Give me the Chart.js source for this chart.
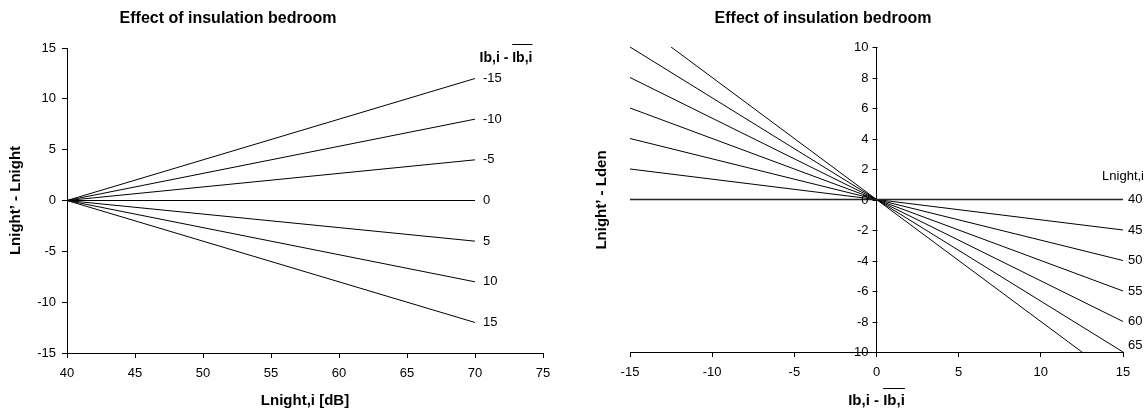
<!DOCTYPE html>
<html>
<head>
<meta charset="utf-8">
<script src="https://cdn.jsdelivr.net/npm/chart.js@4/dist/chart.umd.min.js"></script>
<style>
    body { margin: 0; background: #fff; }
    #wrap { position: relative; width: 1147px; height: 414px; }
    canvas { position: absolute; top: 0; }
</style>
</head>
<body>
<div id="wrap">
    <canvas id="left" width="573" height="414" style="left:0"></canvas>
    <canvas id="right" width="574" height="414" style="left:573px"></canvas>
</div>
<script>
"use strict";

// 左グラフ：Lnight,i に対する効果
const leftX = [40, 70];
const leftLabels = ["-15", "-10", "-5", "0", "5", "10", "15"];
const leftSeries = [
    [0, 12],
    [0, 8],
    [0, 4],
    [0, 0],
    [0, -4],
    [0, -8],
    [0, -12]
];

// 右グラフ：Ib,i - Ib,i に対する効果
const rightX = [-15, 0, 15];
const rightLabels = ["40", "45", "50", "55", "60", "65", "70"];
const rightSeries = [
    [0, 0, 0],
    [2, 0, -2],
    [4, 0, -4],
    [6, 0, -6],
    [8, 0, -8],
    [10, 0, -10],
    [12, 0, -12]
];
const rightYTicks = [-10, -8, -6, -4, -2, 0, 2, 4, 6, 8, 10];

const FONT = "'Liberation Sans', Arial, sans-serif";
const TICK_SIZE = 13;
const AXIS_TITLE_SIZE = 15;
Chart.defaults.font.family = FONT;
Chart.defaults.font.size = TICK_SIZE;
Chart.defaults.color = "#000";

function toPoints(xs, ys) {
    return ys.map((y, i) => ({ x: xs[i], y: y }));
}

function axis(min, max, step, extra) {
    return Object.assign({
        type: "linear",
        min: min,
        max: max,
        ticks: { stepSize: step, padding: 6 },
        grid: { drawOnChartArea: false, tickLength: 5, color: "#000", lineWidth: 1 },
        border: { color: "#000", width: 1 }
    }, extra);
}

// 上線付きテキスト（Ib,i - Ib,i）
function overlineText(ctx, cx, cy, size, gap) {
    ctx.font = "bold " + size + "px " + FONT;
    const a = "Ib,i - ";
    const b = "Ib,i";
    const wa = ctx.measureText(a).width;
    const wb = ctx.measureText(b).width;
    const x0 = cx - (wa + wb) / 2;
    ctx.textAlign = "left";
    ctx.textBaseline = "middle";
    ctx.fillStyle = "#000";
    ctx.fillText(a, x0, cy);
    ctx.fillText(b, x0 + wa, cy);
    ctx.beginPath();
    ctx.lineWidth = 1;
    ctx.strokeStyle = "#000";
    ctx.moveTo(x0 + wa, Math.round(cy - gap) + 0.5);
    ctx.lineTo(x0 + wa + wb, Math.round(cy - gap) + 0.5);
    ctx.stroke();
}

function drawTitle(ctx, x) {
    ctx.font = "bold 16px " + FONT;
    ctx.textAlign = "center";
    ctx.textBaseline = "middle";
    ctx.fillStyle = "#000";
    ctx.fillText("Effect of insulation bedroom", x, 19);
}

// 系列の右端ラベル
function drawEndLabels(chart, labels, offset) {
    const ctx = chart.ctx;
    const xs = chart.scales.x;
    const ys = chart.scales.y;
    ctx.font = TICK_SIZE + "px " + FONT;
    ctx.textAlign = "left";
    ctx.textBaseline = "middle";
    ctx.fillStyle = "#000";
    chart.data.datasets.forEach((ds, i) => {
        const last = ds.data[ds.data.length - 1];
        if (last.y < ys.min || last.y > ys.max) {
            return;
        }
        const px = xs.getPixelForValue(last.x) + offset;
        const py = Math.min(ys.getPixelForValue(last.y), ys.bottom - 7);
        ctx.fillText(labels[i], px, py);
    });
}

const leftPlugin = {
    id: "leftText",
    afterDraw(chart) {
        const ctx = chart.ctx;
        ctx.save();
        drawTitle(ctx, 228);
        drawEndLabels(chart, leftLabels, 8);
        overlineText(ctx, 506, 58, 14, 14);
        ctx.restore();
    }
};

const rightPlugin = {
    id: "rightText",
    afterDraw(chart) {
        const ctx = chart.ctx;
        const xs = chart.scales.x;
        const ys = chart.scales.y;
        const ax = Math.round(xs.getPixelForValue(0)) + 0.5;
        ctx.save();
        drawTitle(ctx, 250);
        // y軸（x=0 の位置）の目盛りとラベル
        ctx.strokeStyle = "#000";
        ctx.lineWidth = 1;
        ctx.font = TICK_SIZE + "px " + FONT;
        ctx.fillStyle = "#000";
        ctx.textAlign = "right";
        ctx.textBaseline = "middle";
        rightYTicks.forEach(v => {
            const py = Math.round(ys.getPixelForValue(v)) + 0.5;
            ctx.beginPath();
            ctx.moveTo(ax - 5, py);
            ctx.lineTo(ax, py);
            ctx.stroke();
            ctx.fillText(String(v), ax - 9, py);
        });
        drawEndLabels(chart, rightLabels, 5);
        ctx.textAlign = "right";
        ctx.fillText("Lnight,i", 571, 176);
        // y軸タイトル
        ctx.save();
        ctx.translate(29, 200);
        ctx.rotate(-Math.PI / 2);
        ctx.textAlign = "center";
        ctx.font = "bold " + AXIS_TITLE_SIZE + "px " + FONT;
        ctx.fillText("Lnight\u2019 - Lden", 0, 0);
        ctx.restore();
        // x軸タイトル
        overlineText(ctx, xs.getPixelForValue(0), 401, AXIS_TITLE_SIZE, 13);
        ctx.restore();
    }
};

new Chart(document.getElementById("left"), {
    type: "scatter",
    data: {
        datasets: leftSeries.map((ys, i) => ({
            label: leftLabels[i],
            data: toPoints(leftX, ys),
            showLine: true,
            borderColor: "#000",
            borderWidth: 1,
            pointRadius: 0
        }))
    },
    options: {
        responsive: false,
        animation: false,
        layout: { padding: { top: 48, right: 30, left: 0, bottom: 0 } },
        plugins: { legend: { display: false }, tooltip: { enabled: false } },
        scales: {
            x: axis(40, 75, 5, {
                ticks: { stepSize: 5, padding: 8 },
                title: { display: true, text: "Lnight,i [dB]", font: { size: AXIS_TITLE_SIZE, weight: "bold" } },
                afterFit: s => { s.height = 61; }
            }),
            y: axis(-15, 15, 5, {
                title: { display: true, text: "Lnight\u2019 - Lnight", font: { size: AXIS_TITLE_SIZE, weight: "bold" }, padding: { top: 7, bottom: 0 } },
                afterFit: s => { s.width = 67; }
            })
        }
    },
    plugins: [leftPlugin]
});

new Chart(document.getElementById("right"), {
    type: "scatter",
    data: {
        datasets: rightSeries.map((ys, i) => ({
            label: rightLabels[i],
            data: toPoints(rightX, ys),
            showLine: true,
            borderColor: i === 0 ? "#222" : "#000",
            borderWidth: i === 0 ? 1.5 : 1,
            pointRadius: 0
        }))
    },
    options: {
        responsive: false,
        animation: false,
        layout: { padding: { top: 47, right: 24, left: 57, bottom: 0 } },
        plugins: { legend: { display: false }, tooltip: { enabled: false } },
        scales: {
            x: axis(-15, 15, 5, {
                position: "bottom",
                ticks: { stepSize: 5, padding: 8 },
                afterFit: s => { s.height = 62; }
            }),
            y: axis(-10, 10, 2, {
                position: { x: 0 },
                ticks: { display: false },
                grid: { display: false }
            })
        }
    },
    plugins: [rightPlugin]
});
</script>
</body>
</html>
